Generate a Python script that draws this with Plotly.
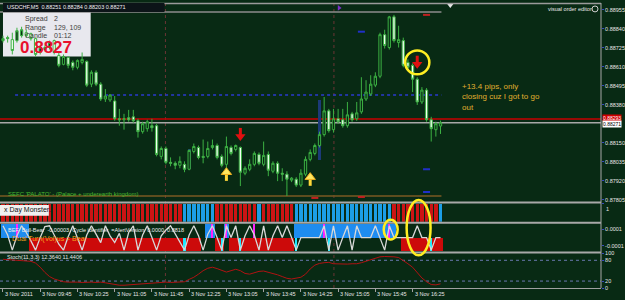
import plotly.graph_objects as go

# ---------------- DATA ----------------
bar_index = list(range(95))

opens = [0.88769, 0.88781, 0.88775, 0.88769, 0.88799, 0.88817, 0.88811, 0.88781, 0.88697, 0.88727,
         0.88727, 0.88769, 0.88679, 0.88625, 0.88667, 0.88637, 0.88607, 0.88637, 0.88643, 0.88505,
         0.88577, 0.88505, 0.88415, 0.88409, 0.88403, 0.88295, 0.88289, 0.88301, 0.88307, 0.88283,
         0.88217, 0.88235, 0.88253, 0.88253, 0.88067, 0.88115, 0.88031, 0.88025, 0.88013, 0.88019,
         0.87989, 0.88097, 0.88121, 0.88067, 0.88067, 0.88121, 0.88133, 0.88067, 0.88019, 0.88121,
         0.88109, 0.88121, 0.87965, 0.87989, 0.88019, 0.88079, 0.88019, 0.88079, 0.87977, 0.88025,
         0.87965, 0.87959, 0.87923, 0.87929, 0.87893, 0.87959, 0.88049, 0.88085, 0.88133, 0.88199,
         0.88343, 0.88229, 0.88295, 0.88289, 0.88253, 0.88325, 0.88295, 0.88337, 0.88415, 0.88445,
         0.88499, 0.88553, 0.88805, 0.88727, 0.88913, 0.88757, 0.88769, 0.88637, 0.88619, 0.88535,
         0.88397, 0.88469, 0.88289, 0.88229, 0.88251]
highs = [0.88799, 0.88799, 0.88817, 0.88847, 0.88853, 0.88835, 0.88817, 0.88787, 0.88739, 0.88739,
         0.88769, 0.88775, 0.88697, 0.88685, 0.88673, 0.88649, 0.88655, 0.88697, 0.88649, 0.88589,
         0.88589, 0.88517, 0.88475, 0.88445, 0.88433, 0.88355, 0.88325, 0.88349, 0.88349, 0.88295,
         0.88277, 0.88289, 0.88295, 0.88265, 0.88127, 0.88127, 0.88061, 0.88037, 0.88067, 0.88037,
         0.88109, 0.88145, 0.88133, 0.88169, 0.88157, 0.88169, 0.88145, 0.88079, 0.88187, 0.88133,
         0.88139, 0.88127, 0.88007, 0.88049, 0.88097, 0.88091, 0.88157, 0.88097, 0.88037, 0.88037,
         0.87995, 0.87977, 0.87941, 0.87941, 0.87989, 0.88067, 0.88109, 0.88145, 0.88217, 0.88427,
         0.88355, 0.88355, 0.88355, 0.88355, 0.88397, 0.88337, 0.88397, 0.88547, 0.88529, 0.88559,
         0.88577, 0.88817, 0.88835, 0.88919, 0.88925, 0.88859, 0.88787, 0.88655, 0.88631, 0.88547,
         0.88487, 0.88481, 0.88307, 0.88277, 0.88284]
lows = [0.88757, 0.88757, 0.88685, 0.88757, 0.88787, 0.88787, 0.88769, 0.88673, 0.88685, 0.88709,
        0.88715, 0.88685, 0.88607, 0.88619, 0.88601, 0.88589, 0.88595, 0.88625, 0.88487, 0.88487,
        0.88493, 0.88403, 0.88397, 0.88397, 0.88283, 0.88253, 0.88229, 0.88277, 0.88271, 0.88181,
        0.88205, 0.88217, 0.88217, 0.88067, 0.88049, 0.88019, 0.88007, 0.87989, 0.87995, 0.87971,
        0.87983, 0.88085, 0.88049, 0.88025, 0.88055, 0.88109, 0.88049, 0.88001, 0.87977, 0.88073,
        0.88097, 0.87887, 0.87953, 0.87977, 0.88007, 0.88013, 0.88007, 0.87947, 0.87965, 0.87917,
        0.87917, 0.87827, 0.87911, 0.87881, 0.87881, 0.87947, 0.88037, 0.88073, 0.88121, 0.88187,
        0.88211, 0.88211, 0.88265, 0.88241, 0.88241, 0.88277, 0.88283, 0.88325, 0.88403, 0.88433,
        0.88487, 0.88541, 0.88721, 0.88715, 0.88757, 0.88727, 0.88607, 0.88589, 0.88457, 0.88379,
        0.88385, 0.88277, 0.88157, 0.88187, 0.88203]
closes = [0.88781, 0.88787, 0.88709, 0.88829, 0.88835, 0.88799, 0.88781, 0.88685, 0.88727, 0.88715,
          0.88757, 0.88697, 0.88619, 0.88673, 0.88619, 0.88607, 0.88649, 0.88655, 0.88499, 0.88577,
          0.88505, 0.88415, 0.88433, 0.88439, 0.88295, 0.88289, 0.88295, 0.88289, 0.88283, 0.88217,
          0.88265, 0.88277, 0.88241, 0.88079, 0.88115, 0.88031, 0.88025, 0.88013, 0.88037, 0.87989,
          0.88103, 0.88127, 0.88061, 0.88061, 0.88115, 0.88133, 0.88061, 0.88013, 0.88127, 0.88085,
          0.88133, 0.87971, 0.87995, 0.88019, 0.88085, 0.88025, 0.88073, 0.87983, 0.88025, 0.87965,
          0.87959, 0.87929, 0.87935, 0.87893, 0.87965, 0.88049, 0.88091, 0.88133, 0.88199, 0.88343,
          0.88223, 0.88295, 0.88277, 0.88253, 0.88319, 0.88289, 0.88331, 0.88415, 0.88457, 0.88505,
          0.88553, 0.88805, 0.88739, 0.88913, 0.88769, 0.88775, 0.88619, 0.88607, 0.88535, 0.88397,
          0.88469, 0.88289, 0.88235, 0.88265, 0.88271]

price_ticks = [0.88955, 0.88840, 0.88725, 0.88610, 0.88495, 0.88380, 0.88150, 0.88035, 0.87920, 0.87805]
bid_price = 0.88271
red_level = 0.88293
blue_level = 0.88439
top_level = 0.88943
bottom_level = 0.87827

time_label_idx = [0, 8, 16, 24, 32, 40, 48, 56, 64, 72, 80, 88]
time_labels = ["3 Nov 2011", "3 Nov 09:45", "3 Nov 10:25", "3 Nov 11:05", "3 Nov 11:45", "3 Nov 12:25",
               "3 Nov 13:05", "3 Nov 13:45", "3 Nov 14:25", "3 Nov 15:05", "3 Nov 15:45", "3 Nov 16:25"]

navy_idx = [40, 68]
navy_top = [0.88109, 0.88409]
navy_bottom = [0.87989, 0.88043]

red_down_idx = [51, 89]
red_down_price = [0.88199, 0.88637]
yellow_up_idx = [48, 66]
yellow_up_price = [0.87959, 0.87929]
blue_mark_idx = [77, 91, 91]
blue_mark_price = [0.88823, 0.87989, 0.87851]
red_mark_idx = [91, 67, 77]
red_mark_price = [0.88925, 0.87815, 0.87821]

# Day Monster histogram state (R = bear/red, B = bull/blue)
monster_state = ("RRRRRRRRRR" "RRRRRRRRRR" "RRRRRRRRRR" "RRRRRRRRRB" "BBBBBBRRRR"
                 "RRRRRBRRRR" "RRRBBBBBBB" "BBBBBBBBBB" "BBBBRRRRRR" "RRRRB")
# Bull-Bear blocks (T = blue top, D = red bottom, N = none)
bullbear_state = ("TTTTTTDDDD" "DDDDDDDDDD" "DDDDDDDDDD" "DDDDDDDDDD" "DDDNTTDDTD"
                  "DDDDDDDDDD" "DDDTTTTTTT" "TTTTTTTTTT" "TTTTTNDDDD" "DDDDD")
cycle_line = [1.4, 0.3, -1.5, 0.2, 1.4, 0.6, -0.4, -1.5, 0.0, 1.3,
              1.4, 0.2, -0.8, -1.5, 0.1, 1.4, 0.0, -1.5, 0.3, 1.4,
              0.4, -0.6, 1.4, 0.2, -0.6, 0.5, -1.5, 0.6, 1.4, -1.5,
              0.3, 1.4, 0.0, -1.5, 0.2, 0.9, 1.4, 0.4, -0.5, -1.5,
              0.3, 1.4, 0.2, -1.5, 0.4, 1.4, 0.0, -1.5, 1.4, 0.0,
              1.4, -1.5, 0.2, 1.4, 0.3, -1.5, 1.4, -1.5, 0.2, 1.4,
              0.0, 1.4, 0.0, -1.5, 0.0, 0.0, 0.0, 0.0, 0.0, 1.4,
              -1.5, 1.4, -1.5, 0.0, 1.4, -1.5, 1.4, 0.0, 0.0, 0.0,
              1.4, 0.0, -1.5, 1.4, 0.0, 0.0, 0.0, 0.0, 0.0, 1.4,
              0.0, 0.0, -1.5, 0.0, 0.0]
magenta_idx = [3, 45, 48, 54, 69, 83]
cyan_idx = [39, 47, 51, 63, 70, 92]

stoch = [83, 82, 80, 79, 78, 78, 77, 72, 60, 45,
         33, 26, 22, 18, 17, 18, 17, 16, 17, 17,
         16, 17, 15, 12, 9, 8, 8, 9, 9, 10,
         12, 14, 15, 16, 17, 17, 16, 17, 17, 18,
         25, 31, 40, 50, 57, 60, 56, 50, 46, 50,
         54, 50, 42, 40, 44, 48, 49, 46, 42, 38,
         33, 28, 26, 28, 31, 40, 55, 66, 71, 73,
         74, 70, 69, 69, 69, 70, 70, 73, 77, 83,
         87, 90, 91, 91, 90, 88, 80, 70, 60, 45,
         29, 18, 10, 9, 12]

# ---------------- STYLE / LAYOUT HELPERS ----------------
BG = "#082a14"
W_PLOT, H_PLOT = 603, 288
PX_PER_BAR = 4.67
PX_PRICE = 0.00006
FONT = "Liberation Sans"


def px_x(px):
    return px / W_PLOT


def px_y(py):
    return (H_PLOT - py) / H_PLOT


X_RANGE = [-3 / PX_PER_BAR, (W_PLOT - 3) / PX_PER_BAR]

fig = go.Figure()

# navy volume-like bars behind candles
fig.add_trace(go.Bar(x=navy_idx, y=[t - b for t, b in zip(navy_top, navy_bottom)], base=navy_bottom,
                     width=0.7, marker=dict(color="#1c3a78", line=dict(width=0)),
                     xaxis="x", yaxis="y", hoverinfo="skip"))

fig.add_trace(go.Candlestick(
    x=bar_index, open=opens, high=highs, low=lows, close=closes,
    increasing=dict(line=dict(color="#3cb043", width=1), fillcolor=BG),
    decreasing=dict(line=dict(color="#3cb043", width=1), fillcolor="#f2fff2"),
    whiskerwidth=0, xaxis="x", yaxis="y", hoverinfo="skip"))

# small dash markers
fig.add_trace(go.Scatter(x=blue_mark_idx, y=blue_mark_price, mode="markers",
                         marker=dict(symbol="line-ew", size=5, line=dict(width=2, color="#2030c8")),
                         xaxis="x", yaxis="y", hoverinfo="skip"))
fig.add_trace(go.Scatter(x=red_mark_idx, y=red_mark_price, mode="markers",
                         marker=dict(symbol="line-ew", size=5, line=dict(width=2, color="#c02020")),
                         xaxis="x", yaxis="y", hoverinfo="skip"))
fig.add_trace(go.Scatter(x=[72.2], y=[0.88967], mode="markers",
                         marker=dict(symbol="triangle-right", size=5, color="#7a30c8"),
                         xaxis="x", yaxis="y", hoverinfo="skip"))
fig.add_trace(go.Scatter(x=[96.1], y=[0.88985], mode="markers",
                         marker=dict(symbol="triangle-down", size=6, color="#e8e8e8"),
                         xaxis="x", yaxis="y", hoverinfo="skip", cliponaxis=False))

# arrows (shaft + head)
fig.add_trace(go.Scatter(x=red_down_idx, y=[p + 2.5 * PX_PRICE for p in red_down_price], mode="markers",
                         marker=dict(symbol="line-ns", size=6, line=dict(width=3, color="#e01010")),
                         xaxis="x", yaxis="y", hoverinfo="skip"))
fig.add_trace(go.Scatter(x=red_down_idx, y=[p - 2 * PX_PRICE for p in red_down_price], mode="markers",
                         marker=dict(symbol="triangle-down", size=9, color="#e01010"),
                         xaxis="x", yaxis="y", hoverinfo="skip"))
fig.add_trace(go.Scatter(x=yellow_up_idx, y=[p - 2.5 * PX_PRICE for p in yellow_up_price], mode="markers",
                         marker=dict(symbol="line-ns", size=6, line=dict(width=3, color="#ffd83a")),
                         xaxis="x", yaxis="y", hoverinfo="skip"))
fig.add_trace(go.Scatter(x=yellow_up_idx, y=[p + 2 * PX_PRICE for p in yellow_up_price], mode="markers",
                         marker=dict(symbol="triangle-up", size=9, color="#ffe860",
                                     line=dict(width=1, color="#f0b020")),
                         xaxis="x", yaxis="y", hoverinfo="skip"))

# panel 2: Day Monster histogram
mon_colors = ["#cc1414" if s == "R" else "#1c9ee6" for s in monster_state]
fig.add_trace(go.Bar(x=bar_index, y=[1 for _ in monster_state], width=0.72,
                     marker=dict(color=mon_colors, line=dict(width=0)),
                     xaxis="x2", yaxis="y2", hoverinfo="skip"))

# panel 3: Bull-Bear blocks
top_x = [i for i, s in zip(bar_index, bullbear_state) if s == "T"]
bot_x = [i for i, s in zip(bar_index, bullbear_state) if s == "D"]
fig.add_trace(go.Bar(x=top_x, y=[1.6 for _ in top_x], base=0, width=1.0,
                     marker=dict(color="#1e8cf0", line=dict(width=0)),
                     xaxis="x3", yaxis="y3", hoverinfo="skip"))
fig.add_trace(go.Bar(x=bot_x, y=[1.6 for _ in bot_x], base=-1.6, width=1.0,
                     marker=dict(color="#cc0a0a", line=dict(width=0)),
                     xaxis="x3", yaxis="y3", hoverinfo="skip"))
fig.add_trace(go.Bar(x=magenta_idx, y=[1.6 for _ in magenta_idx], base=0, width=0.45,
                     marker=dict(color="#ff20ff", line=dict(width=0)),
                     xaxis="x3", yaxis="y3", hoverinfo="skip"))
fig.add_trace(go.Bar(x=cyan_idx, y=[1.6 for _ in cyan_idx], base=-1.6, width=0.45,
                     marker=dict(color="#20e8ff", line=dict(width=0)),
                     xaxis="x3", yaxis="y3", hoverinfo="skip"))
fig.add_trace(go.Scatter(x=bar_index, y=cycle_line, mode="lines",
                         line=dict(color="#d8d8d8", width=1.3),
                         xaxis="x3", yaxis="y3", hoverinfo="skip"))

# panel 4: stochastic
fig.add_trace(go.Scatter(x=bar_index, y=stoch, mode="lines",
                         line=dict(color="#b01212", width=1),
                         xaxis="x4", yaxis="y4", hoverinfo="skip"))

# ---------------- AXES ----------------
dom_main = [px_y(201), 1]
dom_p2 = [px_y(221), px_y(203)]
dom_p3 = [px_y(251), px_y(223)]
dom_p4 = [0, px_y(253)]

tickfont = dict(family=FONT, size=5.5, color="#e6e6e6")
common_x = dict(domain=[0, 1], range=X_RANGE, showgrid=False, zeroline=False,
                showticklabels=False, fixedrange=True)
common_y = dict(side="right", showgrid=False, zeroline=False, tickfont=tickfont,
                ticks="outside", ticklen=2, tickcolor="#3a4ac0", fixedrange=True)

fig.update_layout(
    width=625, height=300,
    margin=dict(l=0, r=22, t=0, b=12),
    paper_bgcolor=BG, plot_bgcolor=BG,
    showlegend=False, barmode="overlay", bargap=0,
    font=dict(family=FONT),
    xaxis=dict(**common_x, anchor="y", rangeslider=dict(visible=False)),
    xaxis2=dict(**common_x, anchor="y2", matches="x"),
    xaxis3=dict(**common_x, anchor="y3", matches="x"),
    xaxis4=dict(**common_x, anchor="y4", matches="x", ticks="outside", ticklen=3,
                tickcolor="#a0a0a0", tickvals=time_label_idx, showline=True,
                linecolor="#a0a0a0", linewidth=1),
    yaxis=dict(**common_y, domain=dom_main, anchor="x",
               range=[0.88997 - 201 * PX_PRICE, 0.88997],
               tickvals=price_ticks, ticktext=[f"{v:.5f}" for v in price_ticks]),
    yaxis2=dict(**common_y, domain=dom_p2, anchor="x2", range=[0, 1.0],
                tickvals=[1], showticklabels=False),
    yaxis3=dict(**common_y, domain=dom_p3, anchor="x3", range=[-1.65, 1.65],
                tickvals=[1, -1], ticktext=["0.0001", "-0.0001"]),
    yaxis4=dict(**common_y, domain=dom_p4, anchor="x4", range=[0, 100],
                tickvals=[100, 80, 20, 0], ticktext=["100", "80", "20", "0"]),
)

shapes = []
# period separators
for xs in [34.9, 71.1]:
    shapes.append(dict(type="line", xref="x", yref="paper", x0=xs, x1=xs, y0=0, y1=1,
                       line=dict(color="#6a3434", width=1, dash="dot"), layer="below"))
# main horizontal levels
shapes.append(dict(type="line", xref="paper", yref="paper", x0=0, x1=1, y0=px_y(0.5), y1=px_y(0.5),
                   line=dict(color="#9a9a9a", width=1.5)))
shapes.append(dict(type="line", xref="x", yref="y", x0=X_RANGE[0], x1=94.2, y0=top_level, y1=top_level,
                   line=dict(color="#8c8c8c", width=1.5), layer="below"))
shapes.append(dict(type="line", xref="x", yref="y", x0=X_RANGE[0], x1=94.2, y0=bottom_level, y1=bottom_level,
                   line=dict(color="#7a5a22", width=1.5), layer="below"))
shapes.append(dict(type="line", xref="x", yref="y", x0=2.6, x1=94.2, y0=blue_level, y1=blue_level,
                   line=dict(color="#2a3ad0", width=1.5, dash="dot"), layer="below"))
shapes.append(dict(type="line", xref="paper", yref="y", x0=0, x1=1, y0=red_level, y1=red_level,
                   line=dict(color="#c80000", width=1.5), layer="below"))
shapes.append(dict(type="line", xref="paper", yref="y", x0=0, x1=1, y0=bid_price, y1=bid_price,
                   line=dict(color="#a8a8a8", width=1.5), layer="below"))
# stoch levels
for lv in [80, 20]:
    shapes.append(dict(type="line", xref="paper", yref="y4", x0=0, x1=1, y0=lv, y1=lv,
                       line=dict(color="#6a78b0", width=1, dash="dot"), layer="below"))
# panel separators
for py in [201.5, 222, 252]:
    shapes.append(dict(type="line", xref="paper", yref="paper", x0=0, x1=1, y0=px_y(py), y1=px_y(py),
                       line=dict(color="#a8a8a8", width=2)))
# right axis line
shapes.append(dict(type="line", xref="paper", yref="paper", x0=1, x1=1, y0=0, y1=1,
                   line=dict(color="#a8a8a8", width=1)))
# info box and title strip
shapes.append(dict(type="rect", xref="paper", yref="paper", x0=px_x(3), x1=px_x(91), y0=px_y(54), y1=px_y(0),
                   fillcolor="#e8e8ee", line=dict(width=0), layer="below"))
shapes.append(dict(type="rect", xref="paper", yref="paper", x0=px_x(3), x1=px_x(165), y0=px_y(9), y1=px_y(0),
                   fillcolor="#0c1418", line=dict(width=0), layer="above"))
# Day Monster label box
shapes.append(dict(type="rect", xref="paper", yref="paper", x0=0, x1=px_x(49), y0=px_y(215), y1=px_y(204),
                   fillcolor="#f0f0f0", line=dict(width=0)))
# yellow circles
shapes.append(dict(type="circle", xref="x", yref="y", x0=89.0 - 2.6, x1=89.0 + 2.6,
                   y0=0.88637 - 12 * PX_PRICE, y1=0.88637 + 12 * PX_PRICE,
                   line=dict(color="#ffee22", width=2.5)))
shapes.append(dict(type="circle", xref="paper", yref="paper", x0=px_x(385), x1=px_x(399),
                   y0=px_y(239), y1=px_y(219), line=dict(color="#ffee22", width=2.5)))
shapes.append(dict(type="circle", xref="paper", yref="paper", x0=px_x(408), x1=px_x(432),
                   y0=px_y(255), y1=px_y(199), line=dict(color="#ffee22", width=2.5)))
# visual order editor icon
shapes.append(dict(type="circle", xref="paper", yref="paper", x0=px_x(594), x1=px_x(600),
                   y0=px_y(9), y1=px_y(3), line=dict(color="#d0d0d0", width=1)))
fig.update_layout(shapes=shapes)

ann = []


def text(px, py, s, size=5.5, color="#e6e6e6", xanchor="left", bold=False, **kw):
    if bold:
        s = f"<b>{s}</b>"
    ann.append(dict(xref="paper", yref="paper", x=px_x(px), y=px_y(py), text=s, showarrow=False,
                    xanchor=xanchor, yanchor="middle", font=dict(family=FONT, size=size, color=color), **kw))


text(5, 4.5, "USDCHF,M5  0.88251 0.88284 0.88203 0.88271", size=5.5, color="#f0f0f0")
text(23, 16, "Spread", size=7, color="#404040")
text(52, 16, "2", size=7, color="#404040")
text(23, 25, "Range", size=7, color="#404040")
text(52, 25, "129, 109", size=7, color="#404040")
text(23, 33, "Candle", size=7, color="#404040")
text(52, 33, "01:12", size=7, color="#404040")
text(18, 45, "0.8827", size=17, color="#e8102c", bold=True)
text(596, 6, "visual order editor", size=5.5, color="#e8e8e8", xanchor="right")
ann.append(dict(xref="paper", yref="paper", x=px_x(462), y=px_y(78), xanchor="left", yanchor="top",
                text="+13.4 pips, only<br>closing cuz I got to go<br>out", showarrow=False, align="left",
                font=dict(family=FONT, size=8, color="#e0b030")))
text(6, 193, "SEFC 'PALATO' - (Palace + underearth kingdom)", size=6, color="#48b830")
text(2, 209.5, "x Day Monster.", size=7, color="#101010")
text(6, 229, "BEF  Bull-Bear  -0.00003  Cycle identifier  =AlertVersion  0.0000  0.8818", size=5.5,
     color="#f0f0f0")
text(10, 238, "Dual Turn(Vol)us = Bear", size=7, color="#f0a020")
text(5, 257, "Stoch(11,3,3) 12.3640 11.4406", size=5.5, color="#e6e6e6")
# panel 2 scale label
text(606, 208, "1", size=5.5, color="#e6e6e6")

# current price labels on axis
ann.append(dict(xref="paper", yref="y", x=1, y=red_level, xanchor="left", yanchor="middle", xshift=1,
                yshift=1.5, text="0.88293", showarrow=False, bgcolor="#d00000", borderpad=0,
                font=dict(family=FONT, size=5, color="#ffffff")))
ann.append(dict(xref="paper", yref="y", x=1, y=bid_price, xanchor="left", yanchor="middle", xshift=1,
                yshift=-1, text="0.88271", showarrow=False, bgcolor="#ffffff", borderpad=0,
                font=dict(family=FONT, size=5, color="#000000")))

# time labels (left aligned like MT4)
for idx, lab in zip(time_label_idx, time_labels):
    ann.append(dict(xref="x4", yref="paper", x=idx, y=0, xanchor="left", yanchor="top", xshift=0, yshift=-1,
                    text=lab, showarrow=False, font=dict(family=FONT, size=5.5, color="#e6e6e6")))

fig.update_layout(annotations=ann)

fig.write_html("out.html")
